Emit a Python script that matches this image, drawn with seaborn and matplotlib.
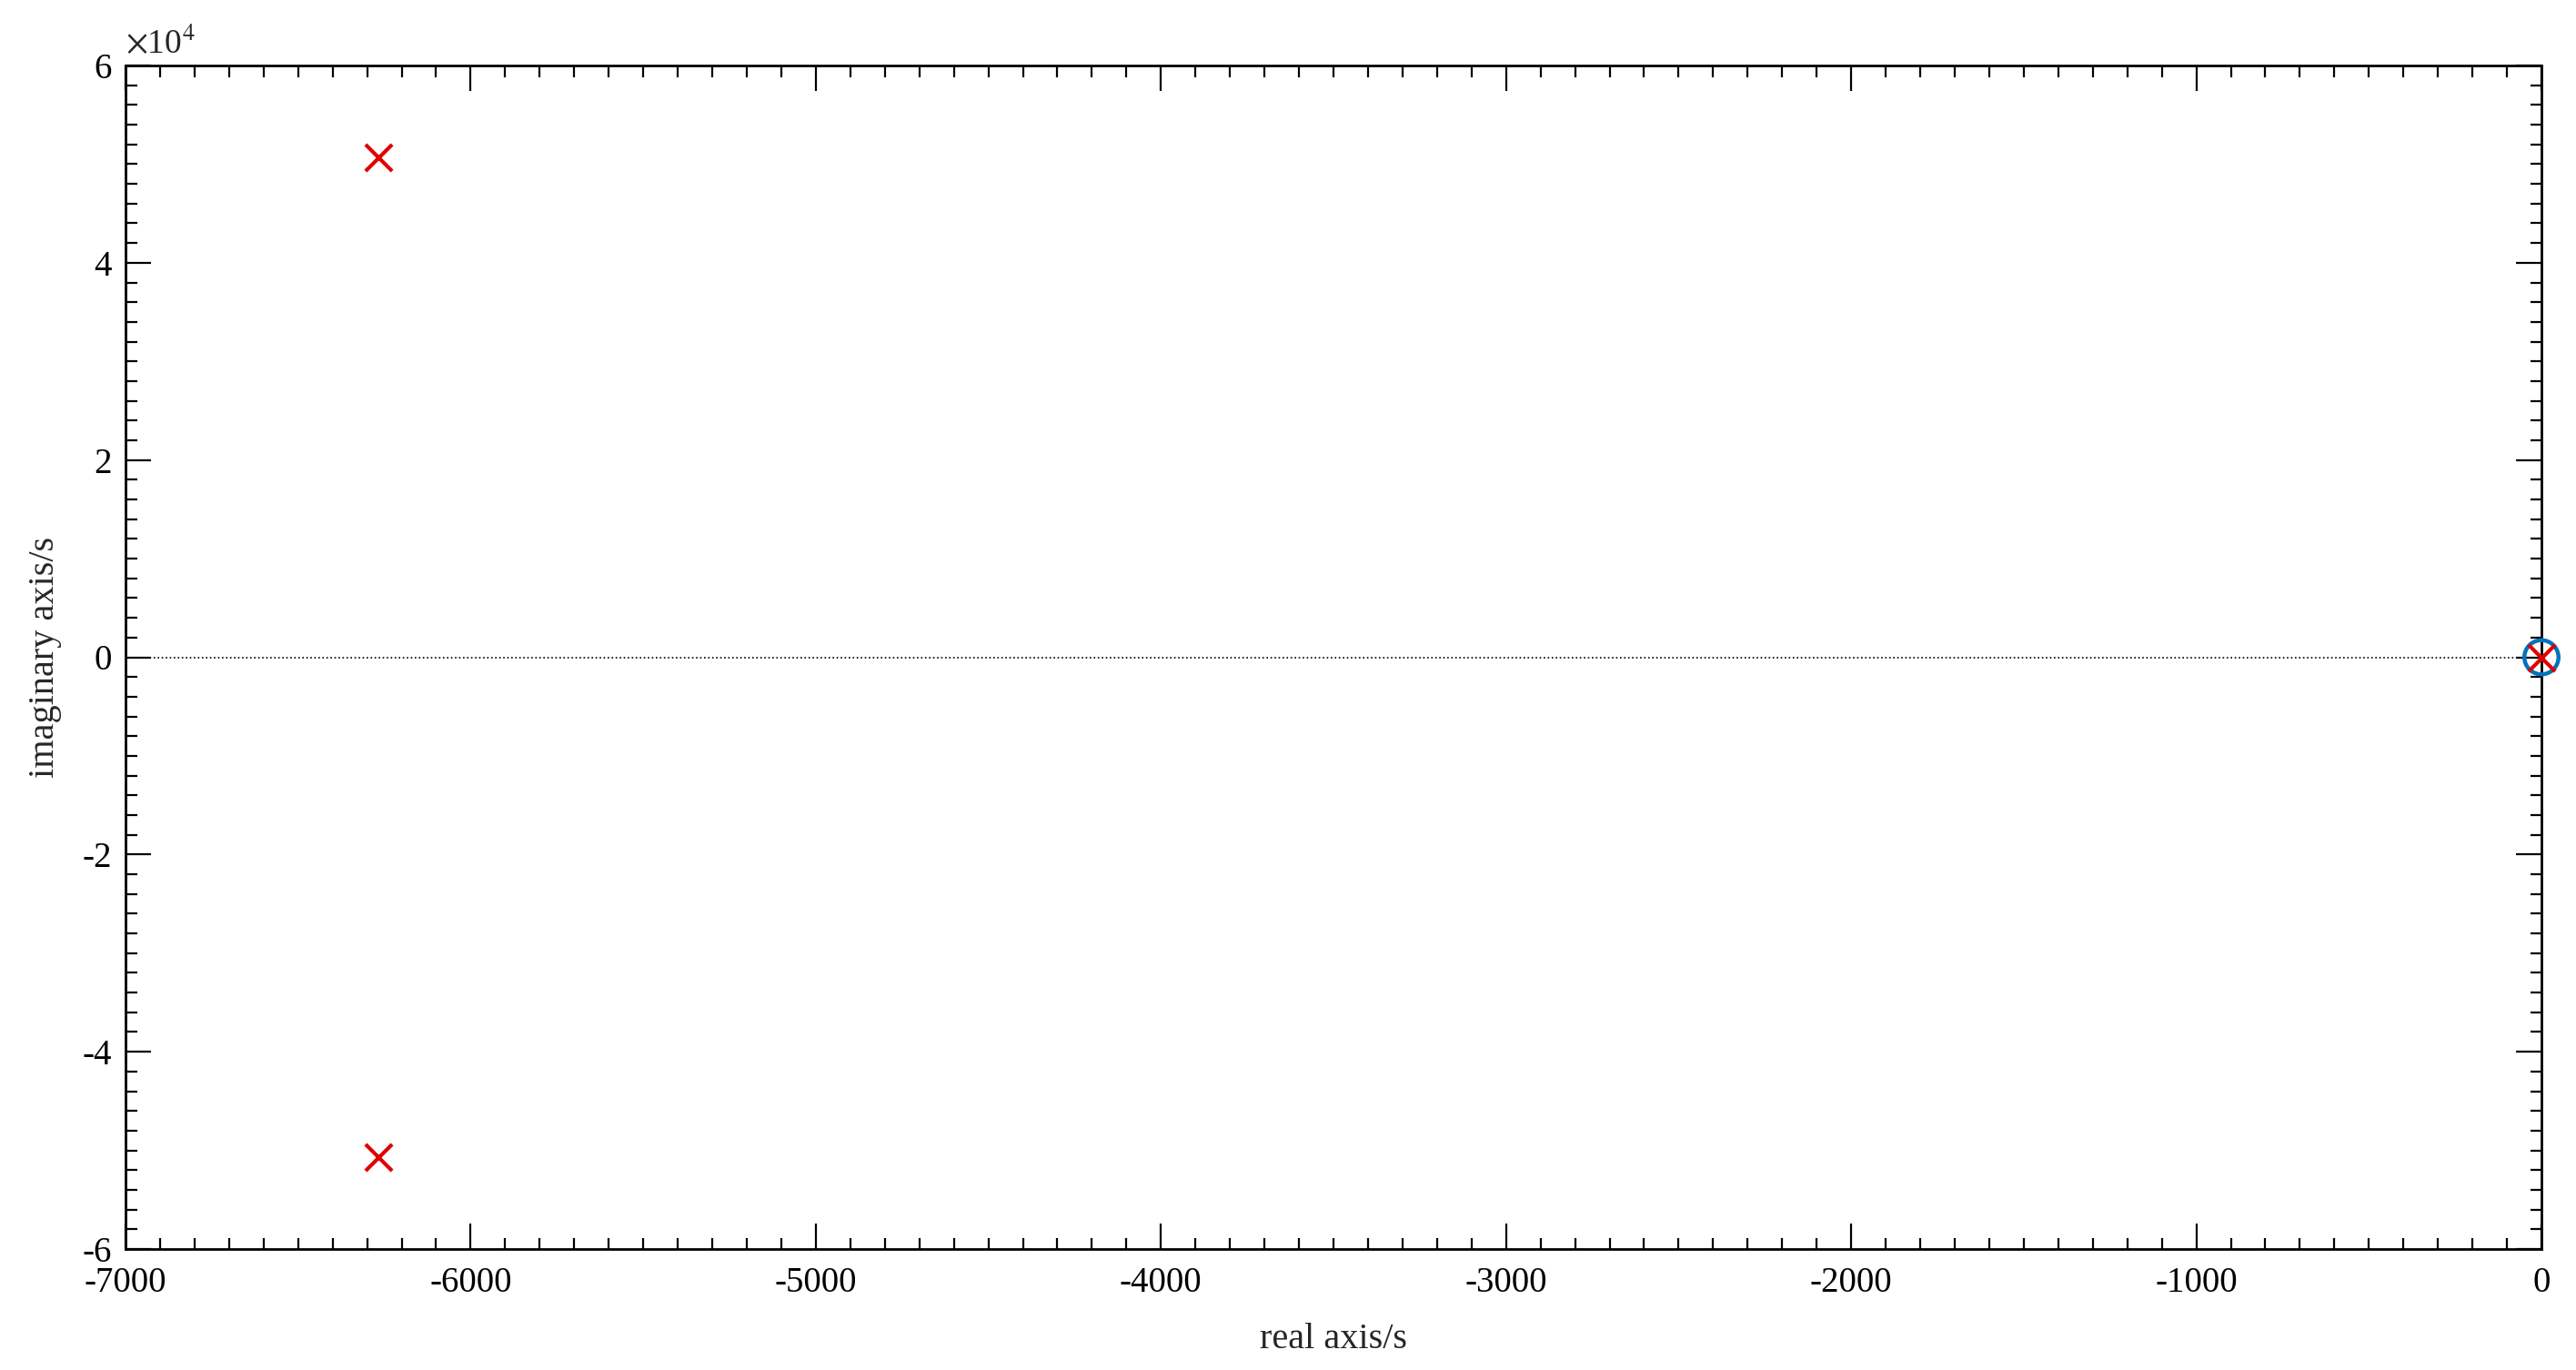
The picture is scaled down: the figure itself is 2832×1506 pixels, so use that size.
import matplotlib
matplotlib.use("Agg")
import matplotlib.pyplot as plt
import seaborn as sns
import pandas as pd
from matplotlib.ticker import MultipleLocator, FuncFormatter

# ---- data ----
pole_real = [-6267, -6267, 0]
pole_imag = [50700, -50700, 0]
zero_real = [0]
zero_imag = [0]
x_ticks = [-7000, -6000, -5000, -4000, -3000, -2000, -1000, 0]
y_ticks = [-60000, -40000, -20000, 0, 20000, 40000, 60000]
y_scale_exp = 4
x_label = "real axis/s"
y_label = "imaginary axis/s"

poles = pd.DataFrame({"real": pole_real, "imag": pole_imag})
zeros = pd.DataFrame({"real": zero_real, "imag": zero_imag})

sns.set_theme(style="white")
plt.rcParams["font.family"] = ["Liberation Serif", "DejaVu Serif"]
plt.rcParams["mathtext.fontset"] = "stix"
plt.rcParams["axes.unicode_minus"] = False

fig = plt.figure(figsize=(28.32, 15.06), dpi=100)
ax = fig.add_axes([138 / 2832, 1 - 1373 / 1506, (2794 - 138) / 2832, (1373 - 72) / 1506])

ax.axhline(0, color="black", linestyle=":", linewidth=1.2, zorder=1)

sns.scatterplot(data=zeros, x="real", y="imag", ax=ax, marker="o",
                s=27 ** 2, facecolors="none", edgecolor="#0072BD",
                linewidth=3.2, clip_on=False, zorder=3, legend=False)
sns.scatterplot(data=poles, x="real", y="imag", ax=ax, marker="x",
                s=21 ** 2, color="#E00000", linewidth=3.0,
                clip_on=False, zorder=4, legend=False)

ax.set_xlim(-7000, 0)
ax.set_ylim(-60000, 60000)
ax.set_xticks(x_ticks)
ax.set_yticks(y_ticks)
ax.xaxis.set_minor_locator(MultipleLocator(100))
ax.yaxis.set_minor_locator(MultipleLocator(2000))

scale = 10 ** y_scale_exp
ax.yaxis.set_major_formatter(FuncFormatter(lambda v, p: f"{int(round(v / scale))}"))
ax.xaxis.set_major_formatter(FuncFormatter(lambda v, p: f"{int(round(v))}"))
ax.text(0.0, 1.004, r"$\times$10$^{%d}$" % y_scale_exp, transform=ax.transAxes,
        ha="left", va="bottom", fontsize=27)

ax.tick_params(which="both", direction="in", top=True, right=True,
               bottom=True, left=True, colors="black")
ax.tick_params(which="major", length=20, width=1.6, labelsize=28)
ax.tick_params(which="minor", length=9, width=1.6)
ax.tick_params(axis="x", which="major", pad=14)
ax.tick_params(axis="y", which="major", pad=11)

for sp in ax.spines.values():
    sp.set_visible(True)
    sp.set_color("black")
    sp.set_linewidth(2.0)

ax.set_xlabel(x_label, fontsize=29, labelpad=18)
ax.set_ylabel(y_label, fontsize=29, labelpad=16)
ax.grid(False)

fig.savefig("out.png", dpi=100, facecolor="white")
